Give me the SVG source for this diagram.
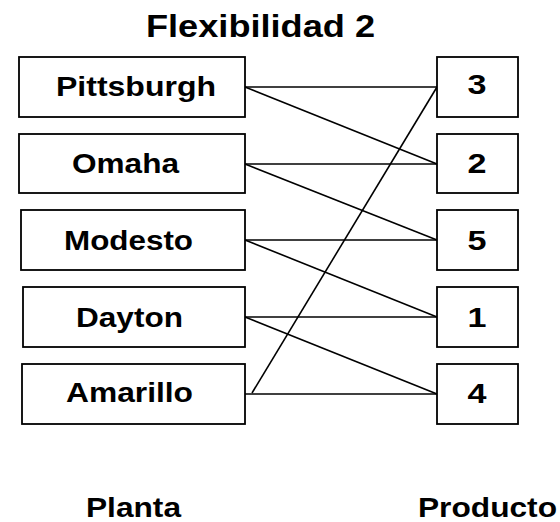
<svg xmlns="http://www.w3.org/2000/svg" width="560" height="522" viewBox="0 0 560 522">
<style>
rect{fill:#fff;stroke:#000;stroke-width:1.8}
text{font-family:"Liberation Sans",Arial,sans-serif;font-weight:bold;fill:#000}
.l{font-size:27px}
.n{font-size:27px;text-anchor:middle}
line{stroke:#000;stroke-width:1.6}
</style>
<rect x="0" y="0" width="560" height="522" style="fill:#fff;stroke:none"/>
<text x="146" y="36.5" style="font-size:32px" textLength="229" lengthAdjust="spacingAndGlyphs">Flexibilidad 2</text>
<g id="connectors">
<line x1="245" y1="87" x2="437" y2="87"/>
<line x1="245" y1="87" x2="437" y2="164"/>
<line x1="245" y1="164" x2="437" y2="164"/>
<line x1="245" y1="164" x2="437" y2="240"/>
<line x1="245" y1="240" x2="437" y2="240"/>
<line x1="245" y1="240" x2="437" y2="317"/>
<line x1="245" y1="317" x2="437" y2="317"/>
<line x1="245" y1="317" x2="437" y2="394"/>
<line x1="245" y1="394" x2="437" y2="394"/>
<line x1="252" y1="393" x2="437" y2="87"/>
</g>
<g id="pittsburgh"><rect x="19" y="57" width="226" height="60"/><text class="l" x="56" y="96" textLength="160" lengthAdjust="spacingAndGlyphs">Pittsburgh</text></g>
<g id="omaha"><rect x="19" y="134" width="226" height="59"/><text class="l" x="72" y="172.5" textLength="107" lengthAdjust="spacingAndGlyphs">Omaha</text></g>
<g id="modesto"><rect x="21" y="210" width="224" height="60"/><text class="l" x="64" y="250" textLength="129" lengthAdjust="spacingAndGlyphs">Modesto</text></g>
<g id="dayton"><rect x="23" y="287" width="222" height="60"/><text class="l" x="76" y="326.5" textLength="107" lengthAdjust="spacingAndGlyphs">Dayton</text></g>
<g id="amarillo"><rect x="22" y="364" width="223" height="60"/><text class="l" x="66" y="402" textLength="127" lengthAdjust="spacingAndGlyphs">Amarillo</text></g>
<g id="p3"><rect x="437" y="57" width="81" height="60"/><text class="n" x="477" y="94" textLength="19" lengthAdjust="spacingAndGlyphs">3</text></g>
<g id="p2"><rect x="437" y="134" width="81" height="59"/><text class="n" x="477" y="172.5" textLength="19" lengthAdjust="spacingAndGlyphs">2</text></g>
<g id="p5"><rect x="437" y="210" width="81" height="60"/><text class="n" x="477" y="250" textLength="19" lengthAdjust="spacingAndGlyphs">5</text></g>
<g id="p1"><rect x="437" y="287" width="81" height="60"/><text class="n" x="477" y="326.5" textLength="19" lengthAdjust="spacingAndGlyphs">1</text></g>
<g id="p4"><rect x="437" y="364" width="81" height="60"/><text class="n" x="477" y="402.5" textLength="19" lengthAdjust="spacingAndGlyphs">4</text></g>
<text x="86" y="517" style="font-size:28px" textLength="95" lengthAdjust="spacingAndGlyphs">Planta</text>
<text x="418" y="517" style="font-size:28px" textLength="139" lengthAdjust="spacingAndGlyphs">Producto</text>
</svg>
